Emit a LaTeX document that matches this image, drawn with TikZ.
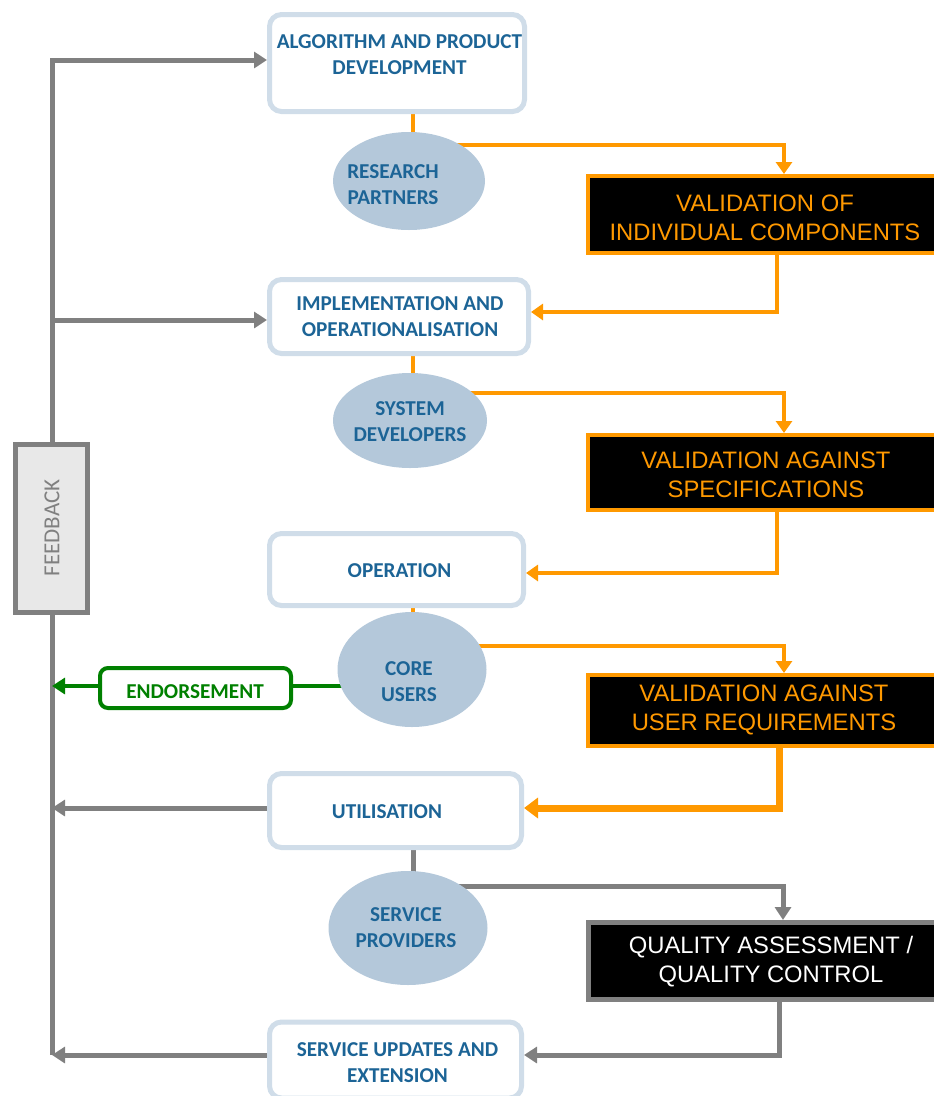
\documentclass[tikz,border=0pt]{standalone}
\usepackage{fontspec}
\setmainfont{Carlito}
\newfontfamily\arialf{Liberation Sans}
\usetikzlibrary{arrows.meta,shapes.geometric,calc}
\pgfdeclarelayer{bg}
\pgfsetlayers{bg,main}
\definecolor{tblue}{RGB}{28,100,150}
\definecolor{bord}{RGB}{208,221,233}
\definecolor{ellf}{RGB}{180,200,218}
\definecolor{orng}{RGB}{255,153,0}
\definecolor{gry}{RGB}{128,128,128}
\definecolor{grn}{RGB}{0,128,0}
\definecolor{fbfill}{RGB}{232,232,232}
\tikzset{
  stage/.style={rectangle, draw=bord, line width=5pt, fill=white, rounded corners=12pt, inner sep=0pt},
  stagetxt/.style={text=tblue, font=\fontsize{21.2}{26}\selectfont\bfseries, align=center, inner sep=0pt},
  actor/.style={ellipse, fill=ellf, draw=none, inner sep=0pt},
  valbox/.style={rectangle, fill=black, draw=orng, line width=4pt, inner sep=0pt},
  qabox/.style={rectangle, fill=black, draw=gry, line width=5pt, inner sep=0pt},
  valtxt/.style={text=orng, font=\arialf\fontsize{23.8}{29}\selectfont, align=center, inner sep=0pt},
  oline/.style={draw=orng, line width=4.5pt},
  gline/.style={draw=gry, line width=5pt},
  garr/.style={gline, -{Triangle[width=16pt,length=13pt]}},
  oarr/.style={oline, -{Triangle[width=16pt,length=12pt]}},
}
\begin{document}
\begin{tikzpicture}[x=1pt,y=-1pt]
\useasboundingbox (0,0) rectangle (934,1096);
\clip (0,0) rectangle (934,1096);
% stage boxes
\node[stage, minimum width=255pt, minimum height=97pt] (box1) at (397,63) {};
\node[stage, minimum width=259pt, minimum height=74pt] (box2) at (399,316.5) {};
\node[stage, minimum width=254pt, minimum height=72pt] (box3) at (396.5,569.5) {};
\node[stage, minimum width=252pt, minimum height=74pt] (box4) at (395.5,810.5) {};
\node[stage, minimum width=252pt, minimum height=76pt] (box5) at (395.5,1060) {};
\node[stagetxt] (t1) at (399.5,55) {ALGORITHM AND PRODUCT\\DEVELOPMENT};
\node[stagetxt] (t2) at (400,317) {IMPLEMENTATION AND\\OPERATIONALISATION};
\node[stagetxt] (t3) at (399.5,571) {OPERATION};
\node[stagetxt] (t4) at (387,812) {UTILISATION};
\node[stagetxt] (t5) at (397.5,1063) {SERVICE UPDATES AND\\EXTENSION};
% actors
\node[actor, minimum width=152pt, minimum height=98pt] (e1) at (409,181) {};
\node[actor, minimum width=154pt, minimum height=95pt] (e2) at (410,420.5) {};
\node[actor, minimum width=149pt, minimum height=115pt] (e3) at (412,669.5) {};
\node[actor, minimum width=159pt, minimum height=114pt] (e4) at (408,928) {};
\node[stagetxt] (te1) at (393,185) {RESEARCH\\PARTNERS};
\node[stagetxt] (te2) at (410,421.5) {SYSTEM\\DEVELOPERS};
\node[stagetxt] (te3) at (409,682) {CORE\\USERS};
\node[stagetxt] (te4) at (406,928) {SERVICE\\PROVIDERS};
% validation boxes
\node[valbox, minimum width=362pt, minimum height=77pt] (b1) at (769,214.5) {};
\node[valbox, minimum width=362pt, minimum height=75pt] (b2) at (769,472.5) {};
\node[valbox, minimum width=362pt, minimum height=71pt] (b3) at (769,710.5) {};
\node[qabox, minimum width=362pt, minimum height=77pt] (b4) at (769,961) {};
\node[valtxt] (tb1) at (765,218) {VALIDATION OF\\INDIVIDUAL COMPONENTS};
\node[valtxt] (tb2) at (766,475) {VALIDATION AGAINST\\SPECIFICATIONS};
\node[valtxt] (tb3) at (764,710) {VALIDATION AGAINST\\USER REQUIREMENTS};
\node[valtxt, text=white] (tb4) at (771,961.5) {QUALITY ASSESSMENT /\\QUALITY CONTROL};
% feedback
\node[rectangle, draw=gry, fill=fbfill, line width=5pt, minimum width=72pt, minimum height=168pt, inner sep=0pt] (fb) at (51,528.5) {};
\node[rotate=90, text=gry, font=\fontsize{23}{26}\selectfont, inner sep=0pt] (fbt) at (52,528) {FEEDBACK};
% endorsement
\node[rectangle, draw=grn, fill=white, line width=4pt, rounded corners=8pt, minimum width=191pt, minimum height=40pt, inner sep=0pt] (endo) at (195.5,688) {};
\node[text=grn, font=\fontsize{21.2}{26}\selectfont\bfseries, inner sep=0pt] (endot) at (195,692) {ENDORSEMENT};
% helper coordinates
\coordinate (cx) at (413,0);
\coordinate (dn) at (784,0);
\coordinate (dn4) at (783,0);
\coordinate (up1) at (777,0);
\coordinate (up3) at (779,0);
\coordinate (fx) at (52,0);
\coordinate (y1) at (0,145);
\coordinate (y2) at (0,393);
\coordinate (y3) at (0,646);
\coordinate (y4) at (0,886);
\coordinate (r1) at (0,312);
\coordinate (r2) at (0,573);
\coordinate (r3) at (0,808);
\coordinate (r4) at (0,1055);
\coordinate (ytop) at (0,60);
\coordinate (yb2) at (0,320);
\coordinate (yend) at (0,686);
\begin{pgfonlayer}{bg}
% stage to actor links
\draw[oline] (box1.south -| cx) -- (e1.center -| cx);
\draw[oline] (box2.south -| cx) -- (e2.center -| cx);
\draw[oline] (box3.south -| cx) -- (e3.center -| cx);
\draw[gline] (box4.south -| cx) -- (e4.center -| cx);
% actor to validation
\draw[oarr] (e1.center |- y1) -| (b1.north -| dn);
\draw[oarr] (e2.center |- y2) -| (b2.north -| dn);
\draw[oarr] (e3.center |- y3) -| (b3.north -| dn);
\draw[garr] (e4.center |- y4) -| (b4.north -| dn4);
% validation back to stages
\draw[oarr] (b1.south -| up1) |- (box2.east |- r1);
\draw[oarr] (b2.south -| up1) |- (box3.east |- r2);
\draw[oline, line width=7pt, -{Triangle[width=20pt,length=14pt]}] (b3.south -| up3) |- (box4.east |- r3);
\draw[garr] (b4.south -| up3) |- (box5.east |- r4);
% feedback loop
\draw[garr] (fb.north -| fx) |- (box1.west |- ytop);
\draw[garr] (fx |- yb2) -- (box2.west |- yb2);
\draw[gline] (fb.south -| fx) -- (fx |- r4);
\draw[garr] (box4.west |- r3) -- (fx |- r3);
\draw[garr] (box5.west |- r4) -- (fx |- r4);
% endorsement
\draw[draw=grn, line width=4.5pt] (e3.center |- yend) -- (endo.east |- yend);
\draw[draw=grn, line width=4.5pt, -{Triangle[width=16pt,length=13pt]}] (endo.west |- yend) -- (fx |- yend);
\end{pgfonlayer}
\end{tikzpicture}
\end{document}
